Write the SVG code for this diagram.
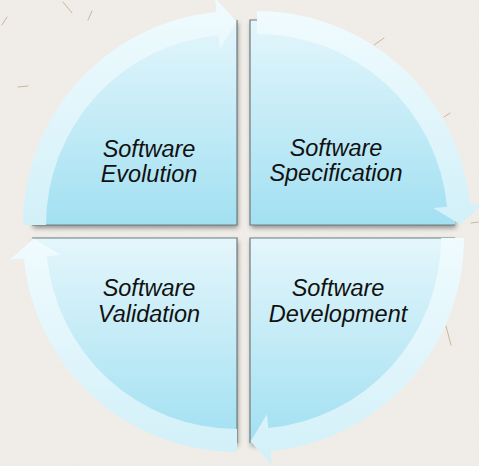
<svg xmlns="http://www.w3.org/2000/svg" width="479" height="466" viewBox="0 0 479 466">
  <defs>
    <linearGradient id="secGrad" x1="0" y1="0" x2="0" y2="1">
      <stop offset="0" stop-color="#e4f6fb"/>
      <stop offset="1" stop-color="#a2e0f2"/>
    </linearGradient>
    <linearGradient id="arrGrad" x1="0" y1="0" x2="0" y2="1">
      <stop offset="0" stop-color="#f0fbfe"/>
      <stop offset="1" stop-color="#d2f0f8"/>
    </linearGradient>
    <filter id="shadow" x="-10%" y="-10%" width="125%" height="125%">
      <feDropShadow dx="1" dy="3" stdDeviation="2.5" flood-color="#000" flood-opacity="0.4"/>
    </filter>
    <filter id="paper" x="0" y="0" width="100%" height="100%">
      <feTurbulence type="fractalNoise" baseFrequency="0.9" numOctaves="2" seed="3" result="n"/>
      <feColorMatrix in="n" type="matrix" values="0 0 0 0 0.6  0 0 0 0 0.57  0 0 0 0 0.52  0 0 0 0.3 0"/>
    </filter>
  </defs>
  <style>
    .sector { fill: url(#secGrad); }
    .edge { fill: none; stroke: #6f7c80; stroke-width: 1.2; }
    .arrow { fill: url(#arrGrad); }
    .label { font-family: "Liberation Sans", Arial, sans-serif; font-style: italic; font-size: 23.5px; fill: #111; text-anchor: middle; }
    .fiber { stroke: #a58c5c; stroke-width: 1; stroke-linecap: round; opacity: 0.55; }
  </style>

  <!-- background paper -->
  <rect x="0" y="0" width="479" height="466" fill="#f1eee9"/>
  <rect x="0" y="0" width="479" height="466" filter="url(#paper)" opacity="0.22"/>
  <g id="fibers">
    <line class="fiber" x1="63" y1="2" x2="72" y2="13"/>
    <line class="fiber" x1="88" y1="20" x2="92" y2="11"/>
    <line class="fiber" x1="2" y1="25" x2="7" y2="17"/>
    <line class="fiber" x1="18" y1="87" x2="28" y2="86"/>
    <line class="fiber" x1="374" y1="45" x2="384" y2="38"/>
    <line class="fiber" x1="444" y1="117" x2="450" y2="113"/>
    <line class="fiber" x1="471" y1="223" x2="479" y2="222"/>
    <line class="fiber" x1="446" y1="326" x2="451" y2="345" opacity="0.3"/>
  </g>

  <!-- quadrant nodes -->
  <g id="node-evolution">
    <path class="sector" filter="url(#shadow)" d="M237 225 L32 225 A205 205 0 0 1 237 20 Z"/>
    <path class="edge" d="M237 20 L237 225 L32 225"/>
    <text class="label" x="149" y="157">Software</text>
    <text class="label" x="149" y="182">Evolution</text>
  </g>
  <g id="node-specification">
    <path class="sector" filter="url(#shadow)" d="M250 225 L250 20 A205 205 0 0 1 455 225 Z"/>
    <path class="edge" d="M455 225 L250 225 L250 20 L260 20"/>
    <text class="label" x="336" y="156">Software</text>
    <text class="label" x="336" y="181">Specification</text>
  </g>
  <g id="node-development">
    <path class="sector" filter="url(#shadow)" d="M250 238 L455 238 A205 205 0 0 1 250 443 Z"/>
    <path class="edge" d="M250 443 L250 238 L455 238"/>
    <text class="label" x="338" y="296">Software</text>
    <text class="label" x="338" y="322">Development</text>
  </g>
  <g id="node-validation">
    <path class="sector" filter="url(#shadow)" d="M237 238 L237 443 A205 205 0 0 1 32 238 Z"/>
    <path class="edge" d="M32 238 L237 238 L237 443"/>
    <text class="label" x="149" y="296">Software</text>
    <text class="label" x="149" y="322">Validation</text>
  </g>

  <!-- circular arrows (connectors) -->
  <g id="connectors">
    <path class="arrow" d="M23 225 A214 214 0 0 1 216.49 11.98 L215.15 -1.95 L236.5 21.61 L220.03 48.81 L218.69 34.88 A191 191 0 0 0 46 225 Z"/>
    <path class="arrow" d="M257 11 A214 214 0 0 1 470.02 204.49 L483.95 203.15 L460.39 224.5 L433.19 208.03 L447.12 206.69 A191 191 0 0 0 257 34 Z"/>
    <path class="arrow" d="M464 238 A214 214 0 0 1 270.51 451.02 L271.85 464.95 L250.5 441.39 L266.97 414.19 L268.31 428.12 A191 191 0 0 0 441 238 Z"/>
    <path class="arrow" d="M237 452 A214 214 0 0 1 23.98 258.51 L10.05 259.85 L33.61 238.5 L60.81 254.97 L46.88 256.31 A191 191 0 0 0 237 429 Z"/>
  </g>
</svg>
